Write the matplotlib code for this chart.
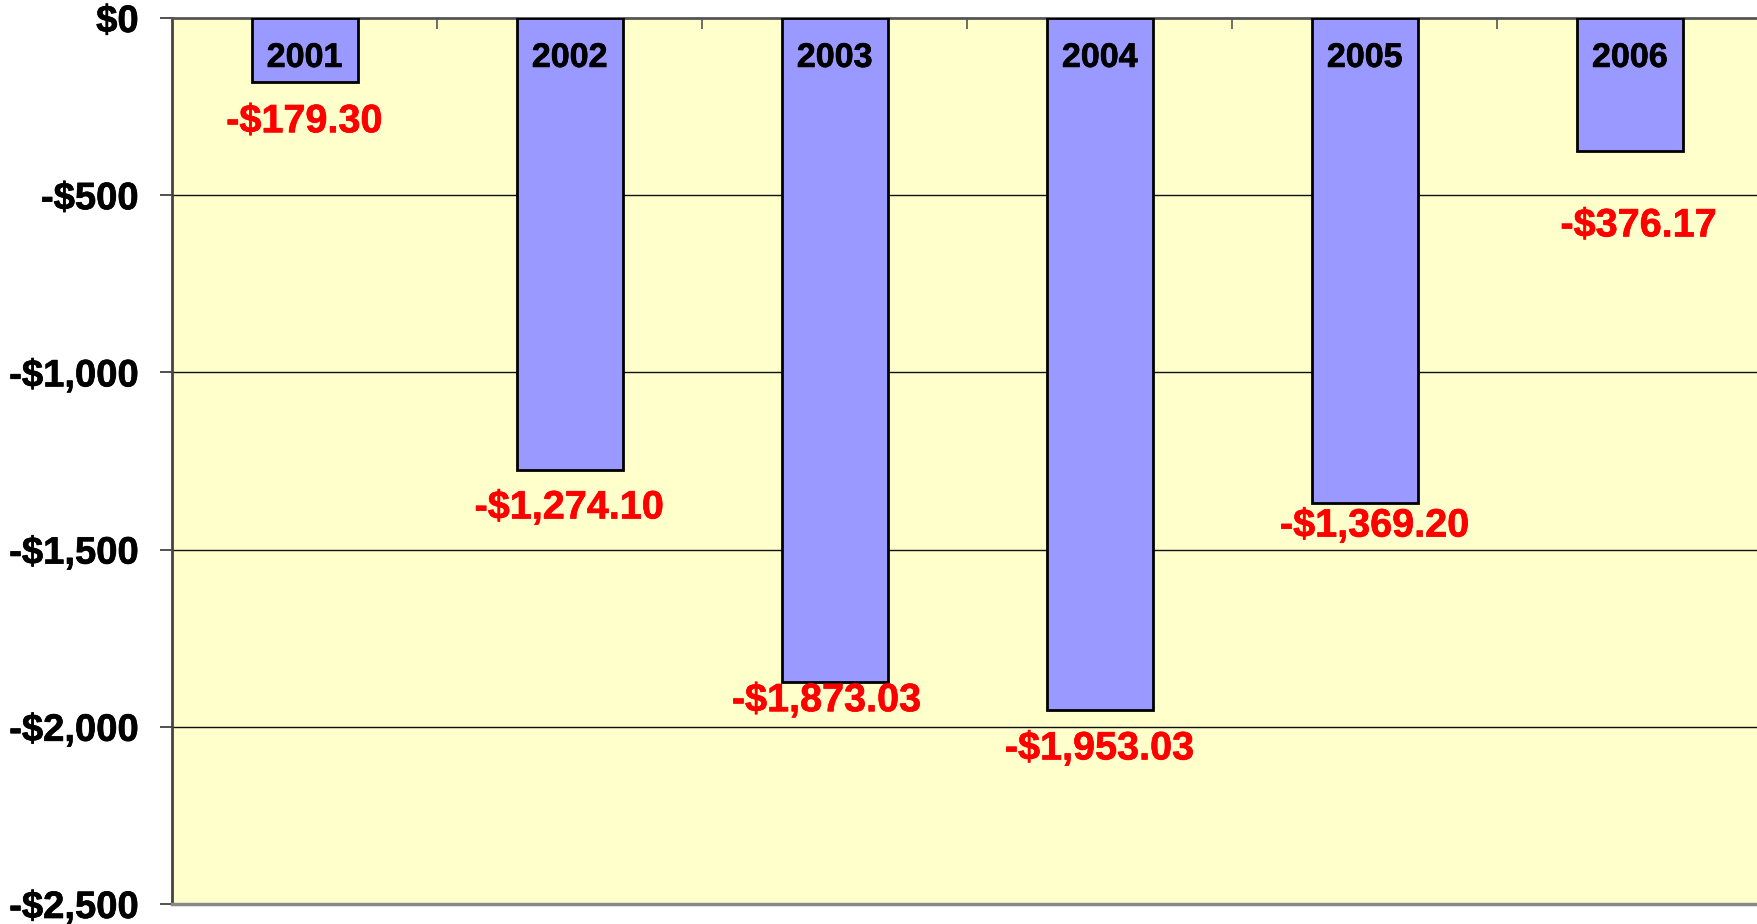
import numpy as np
import matplotlib.pyplot as plt
import matplotlib.patheffects as pe
from matplotlib.ticker import FixedLocator

years = ['2001', '2002', '2003', '2004', '2005', '2006']
values = [-179.30, -1274.10, -1873.03, -1953.03, -1369.20, -376.17]
value_labels = ['-$179.30', '-$1,274.10', '-$1,873.03', '-$1,953.03', '-$1,369.20', '-$376.17']
y_ticks = [0, -500, -1000, -1500, -2000, -2500]
y_tick_labels = ['$0', '-$500', '-$1,000', '-$1,500', '-$2,000', '-$2,500']

# where the red labels sit relative to the bar end (data units) and small x shifts
label_drop = [112, 107, 52, 108, 63, 209]
label_shift = [0.0, 0.0, -0.03, 0.0, 0.038, 0.034]

plt.rcParams['font.family'] = ['Liberation Sans', 'DejaVu Sans']
plt.rcParams['font.weight'] = 'bold'

fig = plt.figure(figsize=(17.57, 9.24), dpi=100)
ax = fig.add_axes([172 / 1757, 1 - 904 / 924, 1 - 172 / 1757 + 0.003, (904 - 18) / 924])
ax.set_facecolor('#FFFFCC')

x = np.arange(len(years))
ax.bar(x, values, width=0.4, color='#9999FF', edgecolor='black', linewidth=2, zorder=3)

for i in range(len(years)):
    ax.text(x[i], -114, years[i], ha='center', va='center', fontsize=24.5,
            fontweight='bold', color='black', zorder=4,
            path_effects=[pe.withStroke(linewidth=0.5, foreground='black')])
    ax.text(x[i] + label_shift[i], values[i] - label_drop[i], value_labels[i],
            ha='center', va='center', fontsize=28.5, fontweight='bold',
            color='#FF0000', zorder=4,
            path_effects=[pe.withStroke(linewidth=0.5, foreground='#FF0000')])

ax.set_xlim(-0.5, 5.5)
ax.set_ylim(-2500, 0)

ax.set_yticks(y_ticks)
ax.set_yticklabels(y_tick_labels, fontsize=27.5, fontweight='bold')
for lbl in ax.get_yticklabels():
    lbl.set_path_effects([pe.withStroke(linewidth=0.5, foreground='black')])
ax.tick_params(axis='y', direction='out', length=9, width=1.2, pad=15, colors='#333333',
               labelcolor='black')

ax.xaxis.tick_top()
ax.xaxis.set_major_locator(FixedLocator(np.arange(0.5, len(years), 1.0)))
ax.tick_params(axis='x', direction='in', length=8, width=1.2, colors='#555555',
               labeltop=False, labelbottom=False)

for yv in y_ticks[1:-1]:
    ax.axhline(yv, color='#111111', linewidth=1.0, zorder=1)

ax.spines['top'].set_color('#555555')
ax.spines['top'].set_linewidth(2)
ax.spines['left'].set_color('#444444')
ax.spines['left'].set_linewidth(2)
ax.spines['bottom'].set_color('#888888')
ax.spines['bottom'].set_linewidth(2.5)
ax.spines['right'].set_visible(False)

fig.savefig('out.png', dpi=100)
